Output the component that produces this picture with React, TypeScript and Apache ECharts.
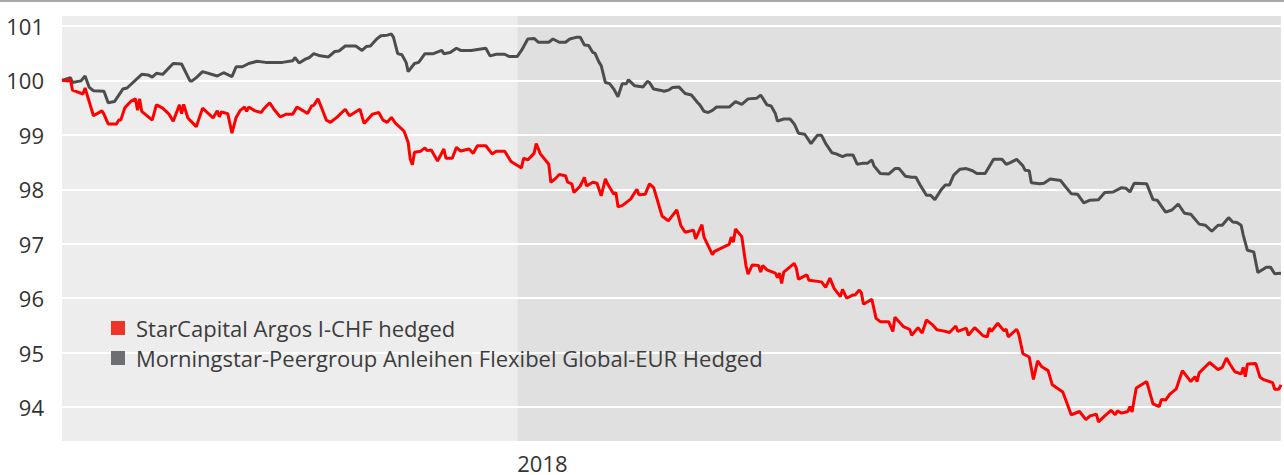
import React, { useEffect, useRef } from "react";
import * as echarts from "echarts";

// x = days since 2017-05-29 (2018-01-01 = day 217), y = indexed value
const xMax = 581;
const yearStartDay = 217;
const yMin = 93.36;
const yMax = 101.2;

const seriesNames = [
  "StarCapital Argos I-CHF hedged",
  "Morningstar-Peergroup Anleihen Flexibel Global-EUR Hedged",
];

const yearBands: [number, number][] = [
  [0, 217],
  [217, 581],
];

const peerGroup: [number, number][] = [
  [0,100.00],[4,100.05],[5,99.96],[9,99.99],[11,100.08],[13,99.87],[15,99.81],[20,99.80],[22,99.59],[25,99.61],[29,99.84],[31,99.86],[38,100.11],[41,100.10],[43,100.06],[45,100.13],[48,100.11],[53,100.31],[57,100.30],[61,99.99],[62,99.99],[64,100.05],[67,100.16],[74,100.08],[77,100.14],[81,100.07],[83,100.25],[86,100.25],[89,100.31],[93,100.35],[97,100.33],[105,100.33],[110,100.36],[111,100.42],[113,100.32],[116,100.39],[118,100.42],
  [120,100.49],[123,100.45],[127,100.43],[130,100.53],[132,100.54],[135,100.63],[140,100.63],[143,100.55],[145,100.62],[147,100.63],[150,100.76],[152,100.82],[155,100.83],[157,100.85],[158,100.79],[160,100.49],[162,100.47],[164,100.33],[165,100.16],[168,100.31],[170,100.33],[173,100.49],[177,100.49],[181,100.55],[182,100.49],[185,100.51],[188,100.59],[190,100.55],[195,100.55],[202,100.59],[204,100.45],[207,100.48],[211,100.48],[213,100.44],[217,100.44],[219,100.55],[222,100.76],[225,100.77],[227,100.70],[232,100.70],[234,100.76],
  [237,100.70],[240,100.70],[242,100.76],[245,100.79],[247,100.79],[249,100.65],[251,100.64],[253,100.51],[254,100.50],[256,100.33],[257,100.27],[259,99.96],[261,99.94],[263,99.84],[265,99.70],[267,99.94],[269,99.94],[270,100.01],[273,99.90],[277,99.88],[279,99.98],[280,99.96],[282,99.84],[285,99.82],[287,99.80],[289,99.82],[291,99.87],[294,99.88],[297,99.76],[300,99.73],[303,99.59],[304,99.55],[306,99.43],[308,99.41],[310,99.45],[312,99.51],[318,99.51],[321,99.61],[324,99.56],[327,99.66],[331,99.67],[333,99.73],[336,99.55],[338,99.53],[340,99.39],[341,99.25],[344,99.29],[347,99.29],[349,99.20],
  [351,99.03],[354,99.01],[357,98.84],[360,98.99],[362,98.99],[364,98.84],[367,98.67],[369,98.65],[372,98.60],[374,98.63],[377,98.63],[379,98.46],[382,98.48],[384,98.48],[386,98.54],[387,98.43],[390,98.29],[394,98.28],[397,98.38],[399,98.38],[402,98.24],[405,98.22],[407,98.22],[409,98.08],[412,97.89],[414,97.89],[416,97.81],[419,97.99],[421,98.08],[423,98.08],[425,98.26],[428,98.37],[431,98.38],[434,98.34],[436,98.29],[440,98.29],[444,98.55],[448,98.55],[450,98.46],[452,98.49],[455,98.55],[458,98.43],[459,98.35],[461,98.34],[462,98.12],[466,98.10],
  [468,98.11],[471,98.19],[476,98.16],[478,98.06],[481,97.92],[484,97.91],[487,97.75],[490,97.80],[494,97.81],[497,97.94],[501,97.95],[505,98.03],[507,98.02],[509,97.95],[511,98.11],[517,98.10],[520,97.81],[522,97.80],[526,97.58],[529,97.62],[532,97.73],[535,97.56],[538,97.54],[542,97.36],[545,97.34],[548,97.23],[551,97.34],[553,97.34],[556,97.48],[558,97.40],[560,97.39],[562,97.34],[563,97.16],[565,96.88],[568,96.85],[570,96.47],[574,96.57],[576,96.57],[578,96.45],[581,96.46],
];

const starCapital: [number, number][] = [
  [0,100.00],[3,99.99],[4,100.02],[5,99.82],[10,99.75],[11,99.86],[15,99.35],[19,99.44],[20,99.38],[22,99.20],[26,99.20],[27,99.27],[28,99.27],[30,99.50],[33,99.62],[35,99.66],[36,99.45],[37,99.66],[38,99.43],[43,99.27],[45,99.55],[48,99.49],[51,99.38],[53,99.25],[56,99.55],[57,99.39],[58,99.56],[60,99.31],[64,99.15],[67,99.49],[72,99.31],[74,99.44],[75,99.33],[76,99.42],[79,99.39],[81,99.03],[83,99.32],[85,99.45],[87,99.51],[88,99.43],[89,99.51],[92,99.44],[95,99.41],[96,99.47],[99,99.59],[101,99.47],[104,99.33],[107,99.38],[110,99.38],[112,99.51],[115,99.44],
  [117,99.39],[119,99.53],[120,99.54],[122,99.66],[124,99.47],[126,99.27],[128,99.23],[131,99.32],[135,99.47],[137,99.35],[142,99.47],[144,99.21],[148,99.38],[151,99.41],[153,99.27],[155,99.23],[157,99.32],[159,99.21],[163,99.07],[165,98.86],[166,98.55],[167,98.45],[168,98.68],[171,98.70],[173,98.76],[174,98.71],[176,98.72],[179,98.52],[182,98.74],[183,98.57],[186,98.57],[188,98.77],[190,98.70],[192,98.72],[194,98.74],[196,98.66],[198,98.80],[202,98.80],[205,98.65],[207,98.70],[211,98.70],[214,98.51],[219,98.39],[220,98.57],[222,98.54],[225,98.66],[226,98.84],[228,98.65],[232,98.46],
  [233,98.13],[235,98.19],[237,98.27],[240,98.25],[241,98.13],[243,98.10],[244,97.94],[247,98.06],[249,98.22],[250,98.06],[253,98.13],[255,98.11],[257,97.88],[259,98.19],[260,98.10],[263,97.91],[264,97.94],[265,97.68],[267,97.70],[271,97.82],[274,98.00],[275,97.90],[278,97.91],[280,98.10],[282,98.03],[286,97.51],[289,97.42],[293,97.62],[295,97.33],[297,97.21],[301,97.25],[302,97.09],[305,97.35],[306,97.12],[308,96.96],[310,96.80],[311,96.86],[318,96.99],[319,97.12],[320,97.03],[321,97.27],[324,97.13],[326,96.60],[327,96.44],[329,96.61],[332,96.60],[333,96.48],[334,96.60],[336,96.52],[340,96.46],[341,96.38],[342,96.46],[343,96.27],[344,96.48],[349,96.64],
  [350,96.55],[351,96.35],[355,96.43],[356,96.33],[362,96.30],[364,96.20],[366,96.37],[368,96.18],[371,96.03],[372,96.16],[374,96.00],[377,96.06],[378,96.06],[380,96.15],[381,96.10],[382,95.89],[386,95.98],[388,95.63],[390,95.57],[394,95.57],[396,95.39],[397,95.65],[401,95.48],[404,95.43],[405,95.32],[408,95.46],[410,95.36],[412,95.60],[415,95.51],[417,95.42],[420,95.40],[423,95.37],[426,95.49],[427,95.39],[431,95.45],[432,95.32],[435,95.46],[439,95.31],[441,95.29],[442,95.45],[443,95.39],[446,95.54],[449,95.40],[450,95.43],[451,95.29],[455,95.43],[456,95.34],[458,94.98],[461,94.92],[463,94.51],[465,94.85],
  [467,94.74],[470,94.67],[472,94.41],[477,94.28],[479,94.07],[481,93.86],[485,93.92],[488,93.77],[490,93.84],[493,93.87],[494,93.73],[497,93.84],[500,93.94],[502,93.86],[503,93.93],[505,93.89],[508,93.92],[509,94.01],[510,93.91],[512,94.35],[517,94.47],[520,94.06],[523,94.01],[524,94.14],[526,94.13],[528,94.24],[531,94.33],[534,94.67],[538,94.47],[540,94.56],[541,94.47],[542,94.63],[547,94.82],[551,94.69],[553,94.73],[555,94.90],[557,94.77],[559,94.65],[562,94.61],[563,94.73],[564,94.56],[565,94.79],[569,94.80],[571,94.55],[573,94.50],[577,94.45],[578,94.33],[580,94.33],[581,94.41],
];

const FONT = "'Open Sans', 'Noto Sans', sans-serif";
const bandColors = ["#ededed", "#e0e0e0"];

export default function App() {
  const ref = useRef<HTMLDivElement>(null);

  useEffect(() => {
    document.body.style.margin = "0";
    if (!ref.current) return;
    const chart = echarts.init(ref.current, undefined, { renderer: "svg" });
    chart.setOption({
      animation: false,
      grid: { left: 62, right: 0, top: 15, bottom: 33, containLabel: false },
      xAxis: {
        type: "value",
        min: 0,
        max: xMax,
        interval: yearStartDay,
        z: 1,
        axisLine: { show: false },
        axisTick: { show: false },
        splitLine: { show: false },
        axisLabel: {
          formatter: (v: number) => (v === yearStartDay ? "2018" : ""),
          align: "left",
          margin: 12,
          fontSize: 22,
          lineHeight: 18,
          color: "#333333",
          fontFamily: FONT,
        },
      },
      yAxis: {
        type: "value",
        min: yMin,
        max: yMax,
        splitNumber: 8,
        minInterval: 1,
        maxInterval: 1,
        z: 1,
        axisLine: { show: false },
        axisTick: { show: false },
        splitLine: { show: true, lineStyle: { color: "#ffffff", width: 2 } },
        axisLabel: {
          formatter: (v: number) =>
            Math.abs(v - Math.round(v)) < 1e-6 ? String(Math.round(v)) : "",
          margin: 18,
          fontSize: 22,
          color: "#333333",
          fontFamily: FONT,
        },
      },
      graphic: [
        {
          type: "line",
          shape: { x1: 0, y1: 1, x2: 1284, y2: 1 },
          style: { stroke: "#a8a8a8", lineWidth: 2 },
          silent: true,
        },
        {
          type: "rect",
          shape: { x: 111, y: 321, width: 14, height: 14 },
          style: { fill: "#ef3329" },
          z: 10,
        },
        {
          type: "text",
          x: 136,
          y: 328,
          z: 10,
          style: {
            text: seriesNames[0],
            fill: "#3c3c3c",
            font: `22px ${FONT}`,
            verticalAlign: "middle",
          },
        },
        {
          type: "rect",
          shape: { x: 111, y: 351, width: 14, height: 14 },
          style: { fill: "#6d6e71" },
          z: 10,
        },
        {
          type: "text",
          x: 136,
          y: 358,
          z: 10,
          style: {
            text: seriesNames[1],
            fill: "#3c3c3c",
            font: `22px ${FONT}`,
            verticalAlign: "middle",
          },
        },
      ],
      series: [
        {
          type: "custom",
          z: 0,
          silent: true,
          clip: false,
          data: yearBands,
          encode: { x: [0, 1] },
          renderItem: (params: any, api: any) => {
            const p0 = api.coord([api.value(0), yMax]);
            const p1 = api.coord([api.value(1), yMin]);
            return {
              type: "rect",
              shape: { x: p0[0], y: p0[1], width: p1[0] - p0[0], height: p1[1] - p0[1] },
              style: { fill: bandColors[params.dataIndex % bandColors.length] },
            };
          },
        },
        {
          name: seriesNames[1],
          type: "line",
          z: 3,
          data: peerGroup,
          showSymbol: false,
          symbol: "none",
          lineStyle: { color: "#4d4d4d", width: 3 },
          silent: true,
        },
        {
          name: seriesNames[0],
          type: "line",
          z: 4,
          data: starCapital,
          showSymbol: false,
          symbol: "none",
          lineStyle: { color: "#ff0000", width: 3 },
          silent: true,
        },
      ],
    });
    return () => chart.dispose();
  }, []);

  return <div ref={ref} style={{ width: 1284, height: 475 }} />;
}
